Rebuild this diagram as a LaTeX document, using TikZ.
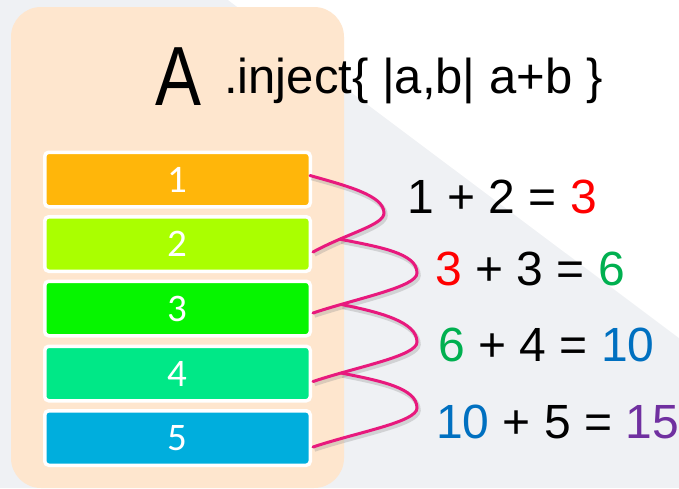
\documentclass[tikz,border=0pt]{standalone}
\usepackage{fontspec}
\setmainfont{Liberation Sans}
\newfontfamily\narrowfont[FakeStretch=0.82]{Liberation Sans}
\newfontfamily\barfont{Carlito}
\usetikzlibrary{calc}
\definecolor{bggrey}{HTML}{EFF1F4}
\definecolor{panelc}{HTML}{FEE6CE}
\definecolor{barA}{HTML}{FFB60A}
\definecolor{barB}{HTML}{AAFF00}
\definecolor{barC}{HTML}{06F500}
\definecolor{barD}{HTML}{00E887}
\definecolor{barE}{HTML}{00AEDD}
\definecolor{pinkc}{HTML}{E8197D}
\definecolor{eqred}{HTML}{FF0000}
\definecolor{eqgreen}{HTML}{00B050}
\definecolor{eqblue}{HTML}{0070C0}
\definecolor{eqpurple}{HTML}{7030A0}
\begin{document}
\begin{tikzpicture}[x=1pt,y=-1pt,
  barbox/.style={draw=white, line width=3.5, rounded corners=4, minimum width=265.5,
    minimum height=54.5, inner sep=0, text=white, font=\barfont\fontsize{39}{39}\selectfont},
  eqtext/.style={anchor=base west, inner sep=0, font=\fontsize{48}{48}\selectfont},
  curve/.style={draw=pinkc, line width=3, line cap=round,
    preaction={draw=black!45, opacity=0.3, line width=4.5,
      transform canvas={shift={(1.5pt,-2.5pt)}}}}]
\useasboundingbox (0,0) rectangle (679,488);
\fill[bggrey] (0,0) rectangle (679,488);
\fill[white] (228,0) -- (679,0) -- (679,338) -- cycle;
\fill[panelc, rounded corners=30] (11,7) rectangle (344,488);

\node[anchor=base west, inner sep=0, font=\narrowfont\fontsize{84}{84}\selectfont] (A) at (155,105) {A};
\node[anchor=base west, inner sep=0, font=\fontsize{49}{49}\selectfont] (inj) at (224,93) {.inject\{ |a,b| a+b \}};

\node[barbox, fill=barA] (b1) at (177.5,179.5) {1};
\node[barbox, fill=barB] (b2) at (177.5,244) {2};
\node[barbox, fill=barC] (b3) at (177.5,308.5) {3};
\node[barbox, fill=barD] (b4) at (177.5,373.5) {4};
\node[barbox, fill=barE] (b5) at (177.5,438) {5};

\draw[curve] ($(b1.east)+(-2,-4)$) .. controls +(35,10) and +(0,-18) .. (384,213)
  .. controls +(0,12) and +(35,-19) .. ($(b2.east)+(1,8)$) coordinate[pos=0.74] (j1);
\draw[curve] (j1) .. controls +(40,8) and +(0,-20) .. (417,273)
  .. controls +(0,14) and +(45,-15) .. ($(b3.east)+(1,4.5)$) coordinate[pos=0.8] (j2);
\draw[curve] (j2) .. controls +(40,8) and +(0,-20) .. (417,342)
  .. controls +(0,14) and +(45,-15) .. ($(b4.east)+(1,8)$) coordinate[pos=0.8] (j3);
\draw[curve] (j3) .. controls +(40,8) and +(0,-20) .. (417,408)
  .. controls +(0,14) and +(45,-15) .. ($(b5.east)+(1,9)$);

\node[eqtext] (e1) at (407,213) {1 + 2 = \textcolor{eqred}{3}};
\node[eqtext] (e2) at (435,285) {\textcolor{eqred}{3} + 3 = \textcolor{eqgreen}{6}};
\node[eqtext] (e3) at (438,361) {\textcolor{eqgreen}{6} + 4 = \textcolor{eqblue}{10}};
\node[eqtext] (e4) at (436,438) {\textcolor{eqblue}{10} + 5 = \textcolor{eqpurple}{15}};
\end{tikzpicture}
\end{document}
